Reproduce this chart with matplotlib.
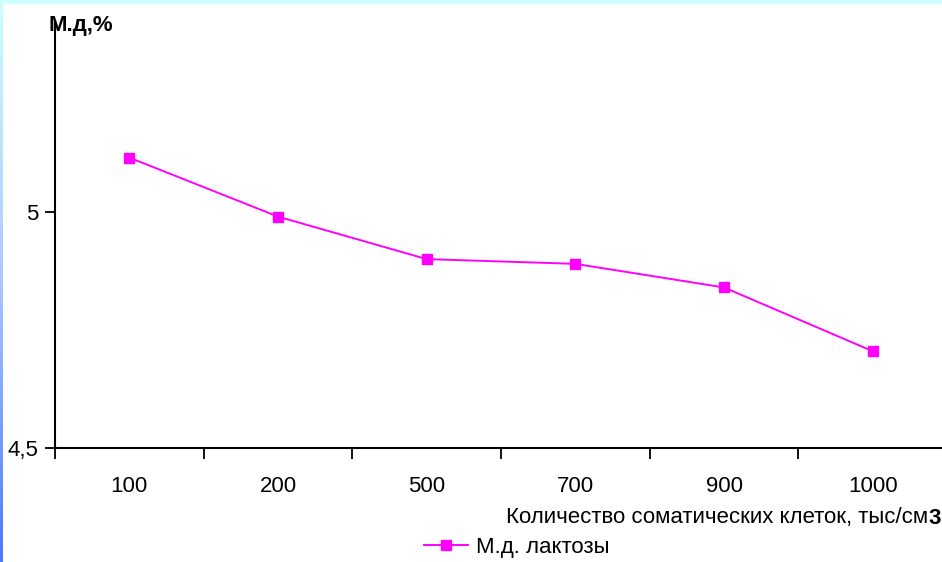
import numpy as np
import matplotlib
matplotlib.use("Agg")
import matplotlib.pyplot as plt
from matplotlib.colors import LinearSegmentedColormap

plt.rcParams['font.family'] = ['Liberation Sans', 'DejaVu Sans']

# somatic cell count categories and lactose mass fraction
cells = ['100', '200', '500', '700', '900', '1000']
lactose = [5.115, 4.99, 4.90, 4.89, 4.84, 4.705]

W, H = 942, 562
FS = 16
fig = plt.figure(figsize=(W / 100, H / 100), dpi=100)
fig.patch.set_facecolor('white')

# slide decoration: thin cyan band on top, gradient strip on the left
fig.patches.append(plt.Rectangle((0, 1 - 3 / H), 1, 3 / H, transform=fig.transFigure,
                                 color='#ccffff', zorder=0))
strip = fig.add_axes([0, 0, 3 / W, 1])
grad = np.linspace(0, 1, 256).reshape(-1, 1)
cmap = LinearSegmentedColormap.from_list('strip', ['#ccffff', '#a8c8ff', '#4a78ff'])
strip.imshow(grad, aspect='auto', cmap=cmap, extent=[0, 1, 0, 1], origin='upper')
strip.set_axis_off()

x0, x1 = 55, 947
y_bot, y_top = 448, 23
ax = fig.add_axes([x0 / W, (H - y_bot) / H, (x1 - x0) / W, (y_bot - y_top) / H])
ax.patch.set_alpha(0)

x = np.arange(len(cells))
ax.plot(x, lactose, color='#ff00ff', lw=1.4, marker='s', markersize=7.5,
        markerfacecolor='#ff00ff', markeredgecolor='#ff00ff', label='М.д. лактозы',
        clip_on=False)

ax.set_xlim(-0.5, len(cells) - 0.5)
ax.set_ylim(4.5, 5.4)
ax.set_yticks([4.5, 5.0])
ax.set_yticklabels(['4,5', '5'])
ax.set_xticks(x)
ax.set_xticklabels(cells)
ax.set_xticks(np.arange(len(cells) + 1) - 0.5, minor=True)

for side in ('top', 'right'):
    ax.spines[side].set_visible(False)
for side in ('left', 'bottom'):
    ax.spines[side].set_linewidth(1.5)
    ax.spines[side].set_color('black')

ax.tick_params(axis='y', direction='out', length=7, width=1.3, labelsize=FS, pad=5)
ax.tick_params(axis='x', which='major', length=0, labelsize=FS, pad=20)
ax.tick_params(axis='x', which='minor', direction='out', length=8, width=1.3)

fig.text(48 / W, 1 - 26 / H, 'М.д,%', fontsize=FS, fontweight='bold',
         ha='left', va='center')
fig.text(928 / W, 1 - 518 / H, 'Количество соматических клеток, тыс/см',
         fontsize=FS, ha='right', va='center')
fig.text(928 / W, 1 - 518 / H, '3', fontsize=FS, fontweight='bold',
         ha='left', va='center')

fig.legend(loc='center left', bbox_to_anchor=(424 / W, 1 - 547 / H), frameon=False,
           fontsize=FS, handlelength=2.0, handletextpad=0.35, borderpad=0,
           borderaxespad=0)

fig.savefig('out.png', dpi=100)
